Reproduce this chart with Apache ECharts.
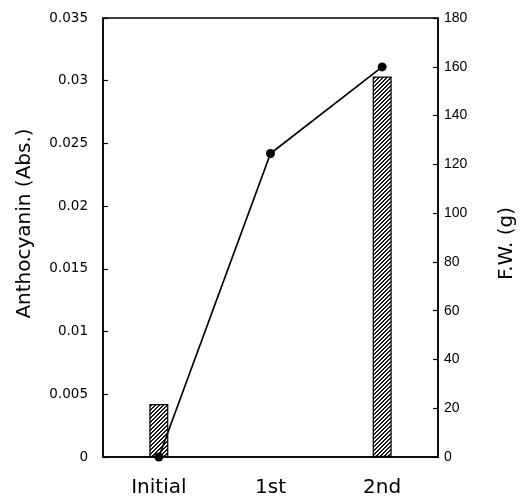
<!DOCTYPE html>
<html><head><meta charset="utf-8">
<script src="https://cdn.jsdelivr.net/npm/echarts@6/dist/echarts.min.js"></script>
<style>html,body{margin:0;padding:0;background:#fff}#c{width:525px;height:502px}</style>
</head><body><div id="c"></div>
<script>
const categories = ['Initial', '1st', '2nd'];
const anthocyanin = [0, 0.0242, 0.0311];
const freshWeight = [21.7, null, 156];
const leftTicks = {min: 0, max: 0.035, interval: 0.005};
const rightTicks = {min: 0, max: 180, interval: 20};

function hatch() {
  const s = 4, c = document.createElement('canvas');
  c.width = s; c.height = s;
  const g = c.getContext('2d');
  g.fillStyle = '#fff'; g.fillRect(0, 0, s, s);
  g.fillStyle = '#1a1a1a';
  for (let i = 0; i < s; i++) {
    g.fillRect(i, s - 1 - i, 1, 1);
    g.fillRect(i, (s - i) % s, 1, 1);
  }
  return c;
}

const dv = '"DejaVu Sans", sans-serif';
const lib = '"Liberation Sans", Arial, sans-serif';
const chart = echarts.init(document.getElementById('c'), null, {renderer: 'canvas'});
chart.setOption({
  animation: false,
  backgroundColor: '#fff',
  grid: {left: 103, right: 87, top: 18, bottom: 45, show: true, borderColor: '#000', borderWidth: 1.5},
  xAxis: {
    type: 'category', data: categories, boundaryGap: true,
    axisLine: {lineStyle: {color: '#000', width: 1.5}},
    axisTick: {inside: true, length: 5, lineStyle: {color: '#000', width: 1.2}},
    axisLabel: {color: '#000', fontFamily: dv, fontSize: 20, margin: 21}
  },
  yAxis: [{
    type: 'value', position: 'left', min: leftTicks.min, max: leftTicks.max, interval: leftTicks.interval,
    name: 'Anthocyanin (Abs.)', nameLocation: 'middle', nameGap: 68, nameRotate: 90,
    nameTextStyle: {color: '#000', fontFamily: dv, fontSize: 20, padding: [0, 0, 0, 28]},
    axisLine: {show: true, lineStyle: {color: '#000', width: 1.5}},
    axisTick: {show: true, inside: true, length: 5, lineStyle: {color: '#000', width: 1.2}},
    axisLabel: {color: '#000', fontFamily: dv, fontSize: 13.5, margin: 15},
    splitLine: {show: false}
  }, {
    type: 'value', position: 'right', min: rightTicks.min, max: rightTicks.max, interval: rightTicks.interval,
    name: 'F.W. (g)', nameLocation: 'middle', nameGap: 59, nameRotate: 90,
    nameTextStyle: {color: '#000', fontFamily: dv, fontSize: 20, padding: [0, 12, 0, 0]},
    axisLine: {show: true, lineStyle: {color: '#000', width: 1.5}},
    axisTick: {show: true, inside: true, length: 5, lineStyle: {color: '#000', width: 1.2}},
    axisLabel: {color: '#000', fontFamily: lib, fontSize: 14, margin: 6},
    splitLine: {show: false}
  }],
  series: [{
    type: 'bar', yAxisIndex: 1, data: freshWeight, barWidth: 19, barGap: '0%',
    itemStyle: {color: {image: hatch(), repeat: 'repeat'}, borderColor: '#000', borderWidth: 1.2},
    z: 2
  }, {
    type: 'line', yAxisIndex: 0, data: anthocyanin,
    symbol: 'circle', symbolSize: 9,
    lineStyle: {color: '#000', width: 1.7},
    itemStyle: {color: '#000'},
    z: 3
  }]
});
</script></body></html>
